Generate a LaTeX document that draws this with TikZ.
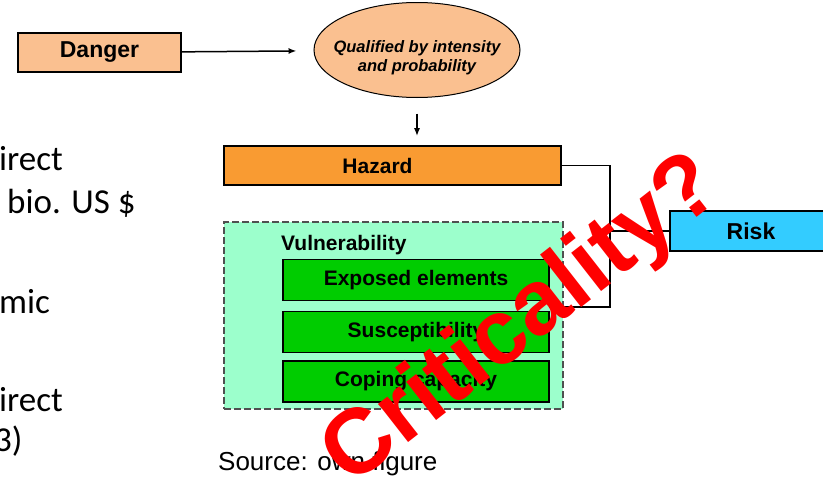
\documentclass[tikz,border=0pt]{standalone}
\usepackage{fontspec}
\setmainfont{Liberation Sans}
\newfontfamily\calibfont{Carlito}
\usetikzlibrary{shapes.geometric,arrows.meta}
\definecolor{peach}{HTML}{FAC090}
\definecolor{hazorange}{HTML}{F99B32}
\definecolor{mint}{HTML}{9CFFCC}
\definecolor{vgreen}{HTML}{00CC00}
\definecolor{riskblue}{HTML}{33CCFF}
\definecolor{dashgray}{HTML}{505050}

\begin{document}
\begin{tikzpicture}[x=1pt, y=-1pt,
        box/.style={draw=black, line width=1.6pt, inner sep=0pt, font=\fontsize{21}{25}\selectfont\bfseries},
        arr/.style={line width=1.5pt, -{Latex[length=8pt,width=6pt]}},
        wire/.style={line width=1.6pt},
        side/.style={inner sep=0pt, anchor=base west, font=\calibfont\fontsize{35}{42}\selectfont}]

        \useasboundingbox (0,0) rectangle (823,477);
        \clip (0,0) rectangle (823,477);

        \node[side] (line1) at (-1,170) {irect};
        \node[side] (line2) at (7,213) {bio. US \$};
        \node[side] (line3) at (-1,313) {mic};
        \node[side] (line4) at (-1,411) {irect};
        \node[side] (line5) at (-6,451) {3)};

        \node[box, fill=peach, minimum width=163pt, minimum height=39pt,
            font=\fontsize{23}{27}\selectfont\bfseries] (danger) at (99.5,52.5) {Danger};
        \node[ellipse, draw=black, line width=1pt, fill=peach, minimum width=206pt, minimum height=95pt,
            label={[align=center, yshift=-8pt, font=\fontsize{16.5}{19}\selectfont\bfseries\itshape]center:Qualified by intensity\\and probability}] (qual) at (417,50) {};
        \node[box, fill=hazorange, minimum width=337pt, minimum height=39pt,
            label={[xshift=-15pt, font=\fontsize{21}{25}\selectfont\bfseries]center:Hazard}] (hazard) at (392.5,165.5) {};

        \node[draw=dashgray, dashed, dash pattern=on 7pt off 3pt, line width=1.5pt, fill=mint,
            minimum width=339pt, minimum height=187pt, inner sep=0pt] (vul) at (393.5,315.5) {};
        \node[inner sep=0pt, anchor=base west, font=\fontsize{21}{25}\selectfont\bfseries] (vultitle) at (281,250) {Vulnerability};
        \foreach \name/\y/\txt in {expo/280/Exposed elements, susc/332/Susceptibility, coping/381.5/Coping capacity}
        \node[box, fill=vgreen, minimum width=266pt, minimum height=41pt] (\name) at (416,\y) {\txt};

        \node[box, fill=riskblue, minimum width=162pt, minimum height=40pt,
            font=\fontsize{23}{27}\selectfont\bfseries] (risk) at (751,231) {Risk};

        \draw[arr, shorten >=17pt] (danger) -- (qual);
        \draw[arr, shorten <=15.5pt, shorten >=9pt] (qual.south) -- (qual.south |- hazard.north);

        \coordinate (junction) at (610,231);
        \coordinate (vuljoin) at (549,307);
        \draw[wire] (hazard.east) -| (junction) |- (vuljoin);
        \draw[wire] (junction) -- (risk.west);

        \node[inner sep=0pt, anchor=base west, font=\fontsize{26}{31}\selectfont] (src) at (218,470) {Source: own figure};

        \node[rotate=38, anchor=base, inner sep=0pt, text=red,
            font=\fontsize{92}{100}\selectfont\bfseries] (crit) at (538,341) {Criticality?};

    \end{tikzpicture}
\end{document}
